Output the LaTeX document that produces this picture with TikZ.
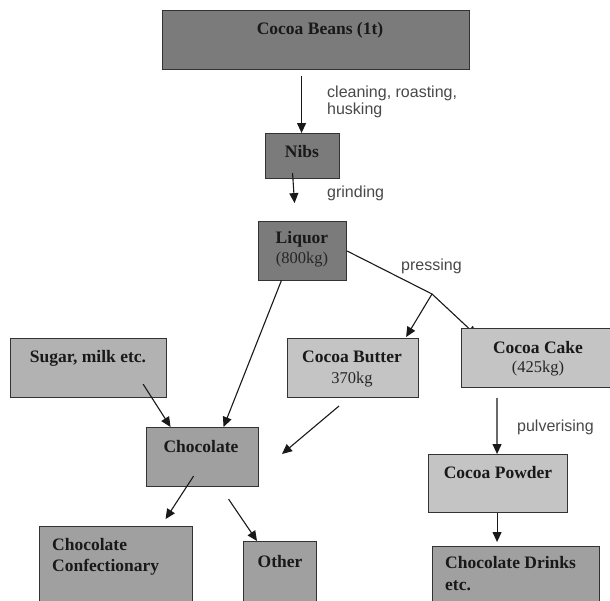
\documentclass[tikz,border=0pt]{standalone}
\usepackage{fontspec}
\setmainfont{Liberation Serif}
\setsansfont{Liberation Sans}
\usetikzlibrary{arrows.meta,backgrounds,calc}

\definecolor{shadeD}{HTML}{7B7B7B}
\definecolor{shadeM}{HTML}{A0A0A0}
\definecolor{shadeS}{HTML}{B2B2B2}
\definecolor{shadeL}{HTML}{C4C4C4}
\definecolor{edge}{HTML}{333333}
\definecolor{labelgrey}{HTML}{484848}

\tikzset{
  box/.style={draw=edge, line width=1.1pt, rectangle, inner sep=0pt, anchor=north west},
  btxt/.style={font=\fontsize{17.5}{20}\selectfont\bfseries, text=black!90, inner sep=0pt, anchor=base},
  rtxt/.style={font=\fontsize{16.5}{20}\selectfont, text=black!85, inner sep=0pt, anchor=base},
  steplabel/.style={font=\sffamily\fontsize{16}{17}\selectfont, text=labelgrey, inner sep=0pt, anchor=base west},
  arr/.style={draw=black!90, line width=1.1pt, -{Triangle[length=10pt,width=9pt]}},
  plain/.style={draw=black!90, line width=1.1pt},
}

\begin{document}
\begin{tikzpicture}[x=1pt,y=-1pt]
\useasboundingbox (0,0) rectangle (610,600);

% boxes
\node[box, fill=shadeD, minimum width=307pt, minimum height=59pt] (beans) at (162,10) {};
\node[box, fill=shadeD, minimum width=74pt,  minimum height=45pt] (nibs)  at (265,133) {};
\node[box, fill=shadeD, minimum width=88pt,  minimum height=59pt] (liquor) at (258,221) {};
\node[box, fill=shadeS, minimum width=156pt, minimum height=59pt] (sugar) at (10,338) {};
\node[box, fill=shadeL, minimum width=131pt, minimum height=59pt] (butter) at (287,338) {};
\node[box, fill=shadeL, minimum width=150pt, minimum height=59pt] (cake) at (461,328) {};
\node[box, fill=shadeM, minimum width=112pt, minimum height=59pt] (choc) at (146,427) {};
\node[box, fill=shadeL, minimum width=139pt, minimum height=58pt] (powder) at (428,454) {};
\node[box, fill=shadeM, minimum width=153pt, minimum height=80pt] (confect) at (39,526) {};
\node[box, fill=shadeM, minimum width=73pt,  minimum height=65pt] (other) at (243,541) {};
\node[box, fill=shadeM, minimum width=167pt, minimum height=60pt] (drinks) at (432,546) {};

% box texts
\node[btxt] (beansT) at (320,34) {Cocoa Beans (1t)};
\node[btxt] (nibsT) at (302,157) {Nibs};
\node[btxt] (liquorT) at (302,243) {Liquor};
\node[rtxt] (liquorW) at (302,263) {(800kg)};
\node[btxt] (sugarT) at (88,362) {Sugar, milk etc.};
\node[btxt] (butterT) at (352,362) {Cocoa Butter};
\node[rtxt] (butterW) at (352,383) {370kg};
\node[btxt] (cakeT) at (538,353) {Cocoa Cake};
\node[rtxt] (cakeW) at (538,372) {(425kg)};
\node[btxt] (chocT) at (201,452) {Chocolate};
\node[btxt] (powderT) at (498,478) {Cocoa Powder};
\node[btxt, anchor=base west] (confectT1) at (52,550) {Chocolate};
\node[btxt, anchor=base west] (confectT2) at (52,571) {Confectionary};
\node[btxt] (otherT) at (280,567) {Other};
\node[btxt, anchor=base west] (drinksT1) at (445,568) {Chocolate Drinks};
\node[btxt, anchor=base west] (drinksT2) at (445,590) {etc.};

% process labels
\node[steplabel] (lbClean) at (327,97) {cleaning, roasting,};
\node[steplabel] (lbHusk) at (327,114) {husking};
\node[steplabel] (lbGrind) at (327,197) {grinding};
\node[steplabel] (lbPress) at (401,270) {pressing};
\node[steplabel] (lbPulv) at (517,431) {pulverising};

% the branch into the cake box tucks its head under the box
\begin{scope}[on background layer]
  \coordinate (fork) at (432,294);
  \draw[arr] (fork) -- ([xshift=16pt,yshift=-8pt]cake.north west);
\end{scope}

% connectors
\coordinate (butterOut) at (339,406);
\coordinate (butterIn) at (282,454);
\draw[arr] ([xshift=-1pt,yshift=-6pt]beans.south -| nibs.north) -- ([xshift=-1pt]nibs.north);
\draw[arr] ([xshift=-10pt,yshift=6pt]nibs.south) -- ([xshift=-8pt,yshift=-24pt]nibs.south);
\draw[arr] ([xshift=-21pt,yshift=1pt]liquor.south) -- ([xshift=21pt]choc.north);
\draw[plain] ([yshift=-30pt]liquor.north east) -- (fork);
\draw[arr] (fork) -- ([xshift=-13pt,yshift=1pt]butter.north east);
\draw[arr] ([xshift=-24pt,yshift=14pt]sugar.south east) -- ([xshift=-32pt]choc.north);
\draw[arr] (butterOut) -- (butterIn);
\draw[arr] ([xshift=-9pt,yshift=11pt]choc.south) -- ([xshift=-37pt,yshift=-32pt]choc.south);
\draw[arr] ([xshift=26pt,yshift=-12pt]choc.south) -- ([xshift=14pt]other.north west);
\draw[arr] ([xshift=36pt,yshift=-10pt]cake.south west) -- ([xshift=-1pt]powder.north);
\draw[arr] ([xshift=-1pt]powder.south) -- ([xshift=-1pt,yshift=4pt]powder.south |- drinks.north);
\end{tikzpicture}
\end{document}
